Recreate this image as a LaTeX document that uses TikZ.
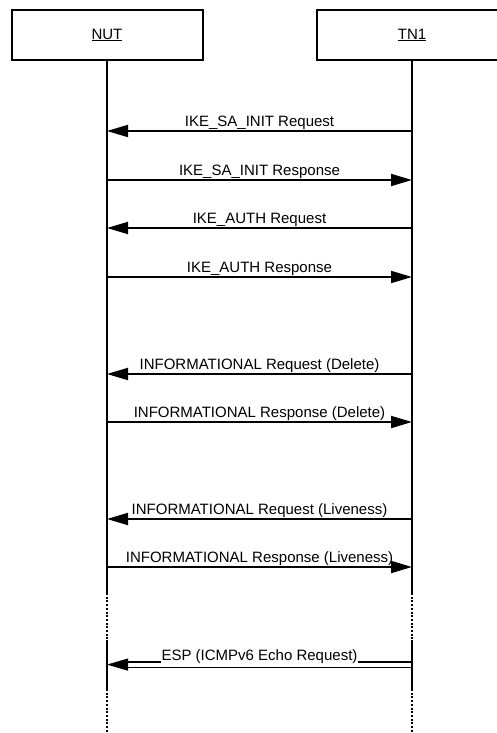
\documentclass[tikz,border=0pt]{standalone}
\usepackage{fontspec}
\setmainfont{Liberation Sans}
\usetikzlibrary{arrows.meta}
\begin{document}
\begin{tikzpicture}[x=1pt,y=-1pt,
  actor/.style={draw, line width=2pt, minimum width=191pt, minimum height=50pt, inner sep=0pt, font=\fontsize{15}{18}\selectfont},
  life/.style={line width=2pt},
  lifedot/.style={line width=2pt, dash pattern=on 2pt off 1.7pt},
  msg/.style={line width=1.9pt, -{Triangle[length=21pt,width=12pt]}},
  lbl/.style={font=\fontsize{15}{18}\selectfont, anchor=base, inner sep=0pt}]
\useasboundingbox (0,0) rectangle (497,733);
\clip (0,0) rectangle (497,733);
\fill[white] (0,0) rectangle (497,733);
% actors
\node[actor] (nut) at (107,35) {\underline{NUT}};
\node[actor] (tn1) at (412,35) {\underline{TN1}};
% lifelines
\coordinate (nA) at (107,593); \coordinate (nB) at (107,640);
\coordinate (nC) at (107,689); \coordinate (nD) at (107,733);
\coordinate (tA) at (412,593); \coordinate (tB) at (412,640);
\coordinate (tC) at (412,689); \coordinate (tD) at (412,733);
\draw[life] (nut.south) -- (nA);
\draw[lifedot] (nA) -- (nB);
\draw[life] (nB) -- (nC);
\draw[lifedot] (nC) -- (nD);
\draw[life] (tn1.south) -- (tA);
\draw[lifedot] (tA) -- (tB);
\draw[life] (tB) -- (tC);
\draw[lifedot] (tC) -- (tD);
% message end points
\foreach \i/\y in {1/131,2/180,3/228,4/277,5/374,6/422,7/519,8/567}{
  \coordinate (n\i) at (107,\y);
  \coordinate (t\i) at (412,\y);
}
\draw[msg] (t1) -- (n1);
\draw[msg] (n2) -- (t2);
\draw[msg] (t3) -- (n3);
\draw[msg] (n4) -- (t4);
\draw[msg] (t5) -- (n5);
\draw[msg] (n6) -- (t6);
\draw[msg] (t7) -- (n7);
\draw[msg] (n8) -- (t8);
\node[lbl] (l1) at (259.5,126.5) {IKE\_SA\_INIT Request};
\node[lbl] (l2) at (259.5,175.5) {IKE\_SA\_INIT Response};
\node[lbl] (l3) at (259.5,223.5) {IKE\_AUTH Request};
\node[lbl] (l4) at (259.5,272.5) {IKE\_AUTH Response};
\node[lbl] (l5) at (259.5,369.5) {INFORMATIONAL Request (Delete)};
\node[lbl] (l6) at (259.5,417.5) {INFORMATIONAL Response (Delete)};
\node[lbl] (l7) at (259.5,514.5) {INFORMATIONAL Request (Liveness)};
\node[lbl] (l8) at (259.5,562.5) {INFORMATIONAL Response (Liveness)};
% ESP double arrow
\coordinate (eTa) at (412,662); \coordinate (eNa) at (122,662);
\coordinate (eTb) at (412,667.3); \coordinate (eNb) at (122,667.3);
\coordinate (eS) at (125,664.6); \coordinate (eN) at (107,664.6);
\draw[line width=1.6pt] (eTa) -- (eNa);
\draw[line width=1.6pt] (eTb) -- (eNb);
\draw[line width=1pt, -{Triangle[length=21pt,width=12pt]}] (eS) -- (eN);
\node[lbl, fill=white, inner xsep=1pt, inner ysep=0.6pt] (l9) at (259.5,660.5) {ESP (ICMPv6 Echo Request)};
\end{tikzpicture}
\end{document}
